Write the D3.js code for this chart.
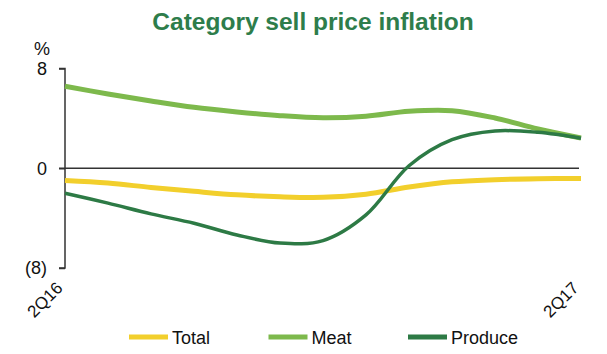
<!DOCTYPE html>
<html>
<head>
<meta charset="utf-8">
<script src="https://cdn.jsdelivr.net/npm/d3@7"></script>
<style>
	body { margin: 0; background: #fff; }
	svg { display: block; font-family: "Liberation Sans", Arial, sans-serif; }
</style>
</head>
<body>
<svg id="svg" width="607" height="354"></svg>
<script>
// monthly points, only first and last are labelled
const months = ['Jun16', 'Jul16', 'Aug16', 'Sep16', 'Oct16', 'Nov16', 'Dec16',
	'Jan17', 'Feb17', 'Mar17', 'Apr17', 'May17', 'Jun17'];
const xTickLabels = ['2Q16', '2Q17'];
const yTicks = [8, 0, -8];

const total = [-0.99, -1.19, -1.54, -1.85, -2.13, -2.29, -2.33, -2.08, -1.51, -1.09, -0.92, -0.84, -0.82];
const meat = [6.58, 5.96, 5.4, 4.89, 4.52, 4.22, 4.05, 4.17, 4.57, 4.62, 4.03, 3.15, 2.43];
const produce = [-2.0, -2.8, -3.66, -4.41, -5.35, -6.0, -5.8, -3.74, 0.2, 2.29, 2.99, 2.88, 2.41];

const seriesNames = ['Total', 'Meat', 'Produce'];
const seriesValues = [total, meat, produce];
const colors = ['#f2cf2c', '#7db94c', '#2d7a45'];
const widths = [5, 5, 3.5];

const svg = d3.select('#svg');
const margin = { left: 65, right: 26, top: 68.5, bottom: 86 };
const width = 607 - margin.left - margin.right;
const height = 354 - margin.top - margin.bottom;

// title
svg.append('text')
	.attr('x', 313)
	.attr('y', 30)
	.attr('text-anchor', 'middle')
	.style('font-size', '24.5px')
	.style('font-weight', 'bold')
	.style('fill', '#2e7d4b')
	.text('Category sell price inflation');

const g = svg.append('g').attr('transform', `translate(${margin.left},${margin.top})`);

const x = d3.scalePoint().domain(months).range([0, width]);
const y = d3.scaleLinear().domain([-8, 8]).range([height, 0]);

// y axis
const yAxis = d3.axisLeft(y)
	.tickValues(yTicks)
	.tickSize(6)
	.tickPadding(12)
	.tickFormat(d => d < 0 ? `(${-d})` : d);
const ya = g.append('g').call(yAxis);
ya.select('.domain').attr('d', `M-6,0H0V${height}H-6`).attr('stroke', '#333').attr('stroke-width', 1.5);
ya.selectAll('.tick line').attr('stroke', '#333').attr('stroke-width', 1.5);
ya.selectAll('.tick text')
	.style('font-size', '18px')
	.style('font-family', '"Liberation Sans", Arial, sans-serif')
	.attr('fill', '#111');

g.append('text')
	.attr('x', -23)
	.attr('y', -14)
	.attr('text-anchor', 'middle')
	.style('font-size', '18px')
	.attr('fill', '#111')
	.text('%');

// zero line
g.append('line')
	.attr('x1', -6).attr('x2', width - 2)
	.attr('y1', y(0)).attr('y2', y(0))
	.attr('stroke', '#333').attr('stroke-width', 1.5);

// x axis labels (rotated)
const xAxis = d3.axisBottom(x)
	.tickValues([months[0], months[months.length - 1]])
	.tickSize(0)
	.tickFormat((d, i) => xTickLabels[i]);
const xa = g.append('g').attr('transform', `translate(0,${height})`).call(xAxis);
xa.select('.domain').remove();
xa.selectAll('.tick text')
	.attr('text-anchor', 'end')
	.attr('dy', 0)
	.attr('transform', 'translate(-4,19) rotate(-45)')
	.style('font-size', '17px')
	.style('font-family', '"Liberation Sans", Arial, sans-serif')
	.attr('fill', '#111');

// lines
const line = d3.line()
	.x((d, i) => x(months[i]))
	.y(d => y(d))
	.curve(d3.curveCatmullRom.alpha(0.5));

g.selectAll('.series')
	.data(seriesValues)
	.enter().append('path')
	.attr('class', 'series')
	.attr('d', line)
	.attr('fill', 'none')
	.attr('stroke', (d, i) => colors[i])
	.attr('stroke-width', (d, i) => widths[i]);

// legend
const legend = svg.append('g').attr('transform', 'translate(129,337)');
const item = legend.selectAll('g')
	.data(seriesNames)
	.enter().append('g')
	.attr('transform', (d, i) => `translate(${i * 139.5},0)`);
item.append('line')
	.attr('x1', 0).attr('x2', 39)
	.attr('stroke', (d, i) => colors[i])
	.attr('stroke-width', 5);
item.append('text')
	.attr('x', 43)
	.attr('y', 7)
	.style('font-size', '18px')
	.attr('fill', '#111')
	.text(d => d);
</script>
</body>
</html>
